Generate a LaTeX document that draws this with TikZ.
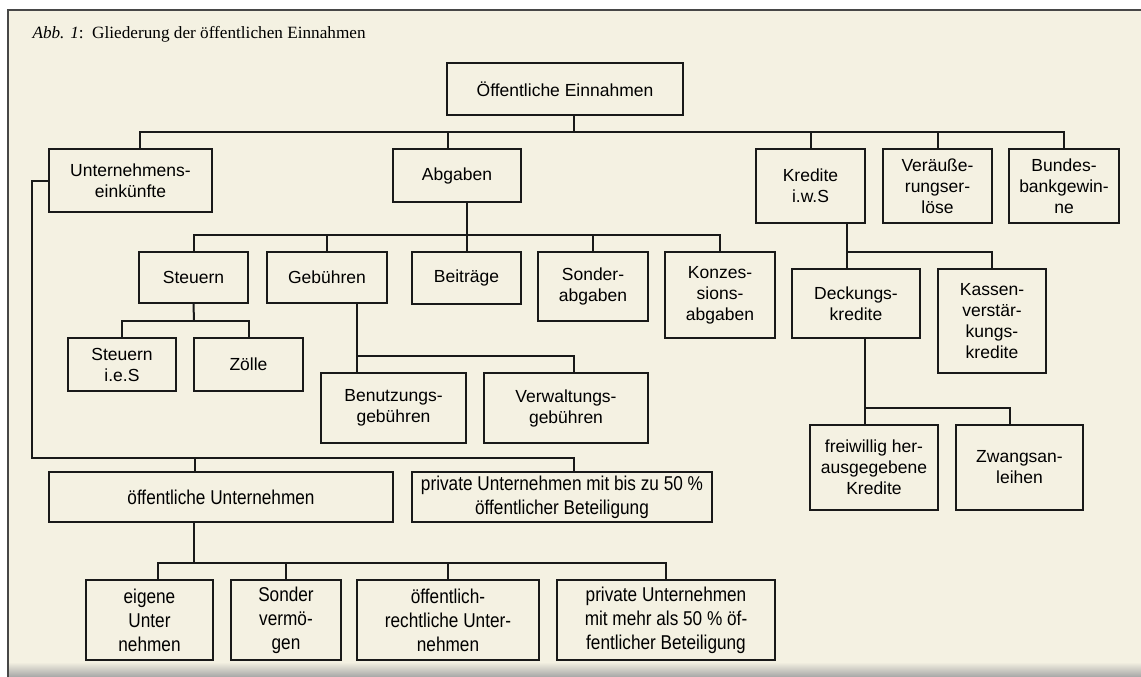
\documentclass[tikz,border=0pt]{standalone}
\usepackage{fontspec}
\setmainfont{Liberation Serif}
\setsansfont{Liberation Sans}
\newfontfamily\tallfont[FakeStretch=0.86]{Liberation Sans}
\usetikzlibrary{calc}
\definecolor{paper}{RGB}{244,241,226}
\definecolor{ink}{RGB}{25,25,25}
\tikzset{box/.style 2 args={draw=ink, line width=2pt, minimum width=#1, minimum height=#2,
           inner sep=0pt, align=center, font=\sffamily\fontsize{17.5}{21}\selectfont},
         tallbox/.style 2 args={box={#1}{#2}, font=\tallfont\fontsize{20}{24}\selectfont},
         link/.style={draw=ink, line width=2pt}}

\begin{document}
\begin{tikzpicture}[x=1pt, y=-1pt]
  \useasboundingbox (0,0) rectangle (1141,677);
  \fill[white] (0,0) rectangle (1141,677);
  \fill[paper] (8,10) rectangle (1141,677);
  \fill[top color=paper, bottom color=black!35] (8,662) rectangle (1141,677);
  \draw[ink!80, line width=1.2pt] (8,677) -- (8,10) -- (1141,10);

  \node[anchor=base west, font=\fontsize{17.2}{21}\selectfont] (title) at (29,39)
    {\textit{Abb. 1}:\ \ Gliederung der öffentlichen Einnahmen};

  % top level
  \node[box={236pt}{52pt}] (E) at (565,89) {Öffentliche Einnahmen};
  \node[box={163pt}{63pt}] (U) at (130.5,180.5) {Unternehmens-\\einkünfte};
  \node[box={128pt}{53pt}] (A) at (457,175.5) {Abgaben};
  \node[box={109pt}{74pt}] (K) at (810.5,186) {Kredite\\i.w.S};
  \node[box={109pt}{74pt}] (V) at (937.5,186) {Veräuße-\\rungser-\\löse};
  \node[box={110pt}{74pt}] (B) at (1064,186) {Bundes-\\bankgewin-\\ne};

  % Abgaben
  \node[box={109pt}{51pt}] (A1) at (193.5,277.5) {Steuern};
  \node[box={120pt}{51pt}] (A2) at (327,277.5) {Gebühren};
  \node[box={109pt}{52pt}] (A3) at (466.5,278) {Beiträge};
  \node[box={110pt}{69pt}] (A4) at (593,286.5) {Sonder-\\abgaben};
  \node[box={110pt}{86pt}] (A5) at (720,295) {Konzes-\\sions-\\abgaben};
  \node[box={108pt}{53pt}] (S1) at (122,364.5) {Steuern\\i.e.S};
  \node[box={109pt}{53pt}] (S2) at (248.5,364.5) {Zölle};
  \node[box={145pt}{70pt}] (G1) at (393.5,408) {Benutzungs-\\gebühren};
  \node[box={164pt}{70pt}] (G2) at (566,408) {Verwaltungs-\\gebühren};

  % Kredite
  \node[box={128pt}{69pt}] (K1) at (856,303.5) {Deckungs-\\kredite};
  \node[box={108pt}{104pt}] (K2) at (992,321) {Kassen-\\verstär-\\kungs-\\kredite};
  \node[box={128pt}{85pt}] (D1) at (874,467.5) {freiwillig her-\\ausgegebene\\Kredite};
  \node[box={127pt}{85pt}] (D2) at (1019.5,467.5) {Zwangsan-\\leihen};

  % Unternehmen
  \node[tallbox={344pt}{50pt}] (U1) at (221,497) {öffentliche Unternehmen};
  \node[tallbox={300pt}{50pt}] (U2) at (562,497) {private Unternehmen mit bis zu 50 \%\\öffentlicher Beteiligung};
  \node[tallbox={127pt}{80pt}] (O1) at (149.5,620) {eigene\\Unter\\nehmen};
  \node[tallbox={110pt}{80pt}] (O2) at (286,620) {Sonder\\vermö-\\gen};
  \node[tallbox={182pt}{80pt}] (O3) at (448,620) {öffentlich-\\rechtliche Unter-\\nehmen};
  \node[tallbox={218pt}{80pt}] (O4) at (666,620) {private Unternehmen\\mit mehr als 50 \% öf-\\fentlicher Beteiligung};

  % bus lines
  \coordinate (b0) at (574,132);
  \coordinate (b1) at (466,235);
  \coordinate (b2) at (194,321);
  \coordinate (b3) at (357,356);
  \coordinate (b4) at (847,252);
  \coordinate (b5) at (865,408);
  \coordinate (b6) at (32,458);
  \coordinate (b7) at (194,563);

  \path[link] (E.south -| b0) -- (b0);
  \path[link] ([xshift=9.5pt]U.north) |- (b0) -| (B.north);
  \path[link] ([xshift=-9pt]A.north) -- ([xshift=-9pt]A.north |- b0);
  \foreach \n in {K,V}
    \path[link] (\n.north) -- (\n.north |- b0);

  \path[link] (A.south -| A3) -- (A3.north);
  \path[link] (A1.north) |- (b1) -| (A5.north);
  \foreach \n in {A2,A4}
    \path[link] (\n.north) -- (\n.north |- b1);

  \path[link] (A1.south) -- (b2);
  \path[link] (S1.north) |- (b2) -| (S2.north);
  \path[link] (A2.south -| b3) -- (G1.north -| b3);
  \path[link] (b3) -| ([xshift=8pt]G2.north);

  \path[link] (K.south -| b4) -- (K1.north -| b4);
  \path[link] (b4) -| (K2.north);
  \path[link] (K1.south -| b5) -- (D1.north -| b5);
  \path[link] (b5) -| ([xshift=-9.5pt]D2.north);

  \path[link] (U.west) -| (b6) -| ([xshift=12pt]U2.north);
  \path[link] ([xshift=-26pt]U1.north) -- ([xshift=-26pt]U1.north |- b6);

  \path[link] (U1.south -| b7) -- (b7);
  \path[link] ([xshift=8pt]O1.north) |- (b7) -| (O4.north);
  \foreach \n in {O2,O3}
    \path[link] (\n.north) -- (\n.north |- b7);
\end{tikzpicture}
\end{document}
